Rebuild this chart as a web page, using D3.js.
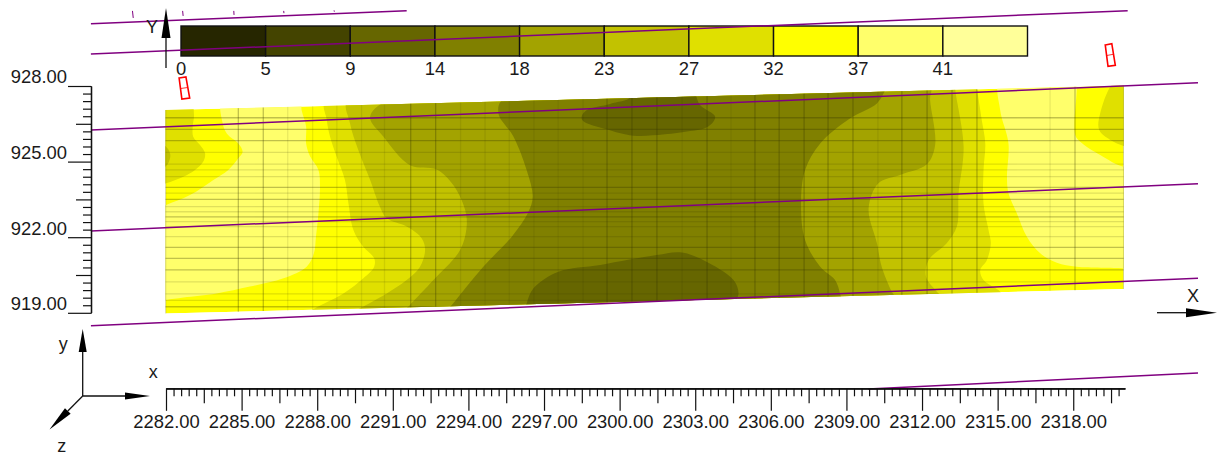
<!DOCTYPE html>
<html><head><meta charset="utf-8">
<style>html,body{margin:0;padding:0;background:#fff;overflow:hidden}svg{display:block}text{font-family:"Liberation Sans",Arial,sans-serif;fill:#1a1a1a}</style>
<script src="https://cdn.jsdelivr.net/npm/d3@7/dist/d3.min.js"></script></head><body>
<script>
// ---------- legend ----------
const legendLabels=["0","5","9","14","18","23","27","32","37","41"];
const legendColors=["#262600","#444400","#666600","#808000","#A3A300","#C2C200","#E0E000","#FFFF00","#FFFF6B","#FFFF99"];
// ---------- axes ----------
const xTickLabels=[2282,2285,2288,2291,2294,2297,2300,2303,2306,2309,2312,2315,2318];
const yTickLabels=[919,922,925,928];
// ---------- surface outline (x,y) ----------
const surface=[[2281.98,927.05],[2320.0,928.02],[2320.0,919.94],[2281.98,918.97]];
// ---------- contour bands (x,y), from the picture ----------
const paleLeft=[[2284.25,927.5],[2284.25,926.52],[2284.41,926.12],[2284.87,925.72],[2285.04,925.39],[2284.87,925.13],[2284.47,924.67],[2283.88,924.27],[2282.95,923.67],[2282,923.28],[2281.5,923.1],[2281.5,919.4],[2282,919.51],[2282.69,919.61],[2284.01,919.77],[2285.33,920.04],[2286.66,920.37],[2287.58,920.83],[2287.87,921.36],[2287.95,922.02],[2288.05,922.95],[2288.11,924.0],[2288.05,924.67],[2287.72,925.2],[2287.56,925.72],[2287.56,926.39],[2287.38,927.05],[2287.32,927.5]];
const paleRight=[[2315.10,928.2],[2315.10,927.05],[2315.43,925.72],[2315.37,924.4],[2315.43,923.74],[2315.76,922.95],[2316.16,922.02],[2316.69,921.36],[2317.35,920.99],[2318.14,920.83],[2320.0,920.76],[2320.4,920.7],[2320.4,924.9],[2320.0,924.8],[2319.07,925.26],[2318.28,925.79],[2318.08,926.06],[2318.14,927.84],[2318.14,928.2]];
const cornerLeft=[[2281.5,927.5],[2282.95,927.5],[2283.11,926.85],[2283.06,926.39],[2283.08,925.99],[2283.35,925.66],[2283.55,925.33],[2283.48,925.0],[2283.15,924.67],[2282.69,924.4],[2282,924.14],[2281.5,924.0]];
const cornerRight=[[2319.67,928.2],[2319.07,926.92],[2319.03,926.25],[2319.47,925.86],[2320.0,925.62],[2320.4,925.5],[2320.4,928.2]];
const band27=[[2288.35,927.5],[2288.38,926.65],[2288.51,925.99],[2288.77,925.2],[2289.10,924.27],[2289.24,923.34],[2289.44,922.28],[2289.83,921.62],[2290.26,921.16],[2290.26,920.83],[2289.83,920.37],[2289.04,919.77],[2287.91,919.18],[2287.5,918.9],[2315.3,919.5],[2315.10,919.84],[2314.44,920.30],[2314.31,920.70],[2314.57,921.09],[2314.73,921.76],[2314.64,922.28],[2314.44,923.34],[2314.44,924.67],[2314.51,925.72],[2314.37,926.65],[2314.18,927.84],[2314.1,928.2]];
const band23=[[2289.24,927.5],[2289.30,926.52],[2289.63,925.46],[2290.10,924.27],[2290.49,923.21],[2290.76,922.75],[2291.55,922.42],[2292.15,921.95],[2292.28,921.49],[2292.08,920.83],[2291.55,920.30],[2290.76,919.77],[2289.70,919.18],[2289.2,918.9],[2312.9,919.5],[2312.59,919.84],[2312.16,920.43],[2312.26,921.09],[2312.98,921.76],[2313.38,922.42],[2313.45,923.74],[2313.65,925.59],[2313.32,927.84],[2313.3,928.2]];
const band18=[[2291.0,927.5],[2290.10,926.78],[2290.63,925.99],[2291.68,924.86],[2292.74,924.69],[2293.40,924.07],[2293.87,923.08],[2293.93,922.42],[2293.67,921.49],[2292.61,920.30],[2291.68,919.31],[2291.3,918.9],[2311,919.5],[2310.80,919.84],[2310.40,920.83],[2310.21,921.76],[2309.88,923.14],[2310.27,924.14],[2311.13,924.47],[2312.19,924.89],[2312.52,925.66],[2312.32,927.44],[2312.30,928.2]];
const band14=[[2295.4,927.5],[2295.19,926.92],[2295.79,925.99],[2296.31,924.67],[2296.55,923.61],[2296.38,923.01],[2295.72,922.02],[2294.59,920.83],[2293.34,919.31],[2293,918.9],[2308.8,919.4],[2308.75,919.74],[2308.55,920.30],[2307.96,920.83],[2307.36,921.89],[2307.20,923.34],[2307.36,924.67],[2307.96,925.72],[2309.15,926.72],[2310.21,927.31],[2310.54,927.84],[2310.7,928.2]];
const blobTop=[[2298.50,926.81],[2298.70,927.05],[2299.62,927.29],[2300.42,927.55],[2300.4,928],[2302.8,928],[2303.19,927.25],[2303.79,926.78],[2303.52,926.39],[2302.67,926.19],[2300.55,926.03],[2299.49,926.28],[2298.54,926.62]];
const blobBottom=[[2296.2,918.9],[2296.31,919.37],[2296.58,919.97],[2297.57,920.63],[2299.23,920.90],[2301.47,921.29],[2302.40,921.40],[2303.33,921.09],[2304.52,920.30],[2304.72,919.77],[2304.58,919.37],[2304.6,918.9]];
const notchLeft=[[2281.6,925.7],[2282,925.59],[2282.16,925.33],[2282.16,925.13],[2282,924.82],[2281.6,924.7]];
// ---------- mesh lines ----------
const meshXStrong=[2281.98,2284.87,2285.86,2291.71,2292.70,2299.5,2300.49,2301.48,2303.47,2305.37,2306.33,2307.32,2308.27,2309.26,2311.2,2312.2,2313.19,2314.18,2318.07,2320.0];
const meshXFaint=[2286.83,2287.82,2288.78,2289.76,2290.67,2293.69,2294.66,2295.62,2296.6,2297.56,2298.55,2302.48,2304.42,2310.25,2317.08];
const meshYStrong=[926.74,926.28,925.83,923.98,923.50,922.81,921.60,921.16,920.70,919.24];
const meshYFaint=[925.37,924.90,924.67,924.40,923.75,923.21,923.01,922.62,922.42,922.02,920.23,919.75,919.49];
// ---------- section lines (x,y) ----------
const sections=[[[2279.02,930.47],[2291.55,930.99]],[[2279.02,929.27],[2320.16,930.99]],[[2279.02,926.25],[2322.95,928.13]],[[2279.02,922.25],[2322.95,924.12]],[[2279.02,918.49],[2322.95,920.37]],[[2309.86,915.98],[2322.95,916.61]]];
const sectionTicks=[[[2280.67,930.98],[2280.7,930.7]],[[2282.66,930.98],[2282.68,930.78]],[[2284.69,930.98],[2284.7,930.82]],[[2286.67,930.98],[2286.68,930.89]],[[2288.67,931.0],[2288.68,930.95]]];
const markers=[[[2282.52,928.32],[2282.79,928.36],[2282.94,927.52],[2282.63,927.48]],[[2319.27,929.63],[2319.53,929.68],[2319.67,928.82],[2319.38,928.78]]];
const markerMids=[[[2282.58,927.9],[2282.86,927.94]],[[2319.33,929.21],[2319.6,929.26]]];

const W=1217,H=456,FS=18.4;
const x=d3.scaleLinear().domain([2282,2320.05]).range([166,1124.9]);
const y=d3.scaleLinear().domain([919,928]).range([312.8,86]);
const svg=d3.select("body").append("svg").attr("width",W).attr("height",H);
const poly=p=>"M"+p.map(d=>[x(d[0]),y(d[1])].join(",")).join("L")+"Z";
const smooth=d3.line().x(d=>x(d[0])).y(d=>y(d[1])).curve(d3.curveCatmullRomClosed.alpha(0.5));

// contours
svg.append("clipPath").attr("id","sf").append("path").attr("d",poly(surface));
const g=svg.append("g").attr("clip-path","url(#sf)");
g.append("path").attr("d",poly(surface)).attr("fill",legendColors[7]);
[[paleLeft,8],[paleRight,8],[cornerLeft,6],[cornerRight,6],[band27,6],[notchLeft,5],[band23,5],[band18,4],[band14,3],[blobTop,2],[blobBottom,2]]
 .forEach(([p,c])=>g.append("path").attr("d",smooth(p)).attr("fill",legendColors[c]));
// mesh
const meshV=(a,o)=>g.append("g").selectAll("line").data(a).join("line").attr("x1",d=>x(d)).attr("x2",d=>x(d)).attr("y1",y(928.3)).attr("y2",y(918.8)).attr("stroke","#333300").attr("stroke-width",1.3).attr("opacity",o);
const meshH=(a,o)=>g.append("g").selectAll("line").data(a).join("line").attr("x1",x(2281.9)).attr("x2",x(2320.1)).attr("y1",d=>y(d)).attr("y2",d=>y(d)).attr("stroke","#333300").attr("stroke-width",1.3).attr("opacity",o);
meshV(meshXStrong,.3);meshV(meshXFaint,.1);meshH(meshYStrong,.3);meshH(meshYFaint,.15);

// legend
const lx=d3.scaleLinear().domain([0,legendLabels.length]).range([181,1027.5]);
const lg=svg.append("g");
lg.selectAll("rect").data(legendColors).join("rect").attr("x",(d,i)=>lx(i)).attr("y",26).attr("width",(d,i)=>lx(i+1)-lx(i)).attr("height",30).attr("fill",d=>d).attr("stroke","#111").attr("stroke-width",1.4);
lg.selectAll("text").data(legendLabels).join("text").attr("x",(d,i)=>lx(i)).attr("y",74.6).attr("text-anchor","middle").attr("font-size",FS).text(d=>d);

// section lines
const ln=d3.line().x(d=>x(d[0])).y(d=>y(d[1]));
svg.append("g").selectAll("path").data(sections).join("path").attr("d",ln).attr("fill","none").attr("stroke","#800080").attr("stroke-width",1.5);
svg.append("g").selectAll("path").data(sectionTicks).join("path").attr("d",ln).attr("fill","none").attr("stroke","#800080").attr("stroke-width",1);
svg.append("g").selectAll("path").data(markers).join("path").attr("d",poly).attr("fill","none").attr("stroke","#ff0000").attr("stroke-width",1.6);
svg.append("g").selectAll("path").data(markerMids).join("path").attr("d",ln).attr("fill","none").attr("stroke","#ff0000").attr("stroke-width",.8);

// axes
const majorX=xTickLabels, midX=xTickLabels.map(d=>d+1.5).filter(d=>d<2320);
const allX=d3.range(0,127).map(i=>2282+i*0.3).filter(d=>!majorX.some(m=>Math.abs(m-d)<.01)&&!midX.some(m=>Math.abs(m-d)<.01));
const axY=388.3, axX=91;
const bx=svg.append("g").attr("transform",`translate(0,${axY})`);
const style=s=>{s.selectAll("path,line").attr("stroke","#111").attr("stroke-width",1.2);};
bx.append("g").call(d3.axisBottom(x).tickValues(allX).tickSize(8).tickSizeOuter(0).tickFormat("")).call(style);
bx.append("g").call(d3.axisBottom(x).tickValues(midX).tickSize(15).tickSizeOuter(0).tickFormat("")).call(style);
bx.append("g").call(d3.axisBottom(x).tickValues(majorX).tickSize(22.5).tickSizeOuter(0).tickPadding(4).tickFormat(d3.format(".2f"))).call(style)
  .selectAll("text").attr("font-size",FS).attr("font-family",null);
const majorY=yTickLabels, midY=[919,922,925].map(d=>d+1.5);
const allY=d3.range(0,31).map(i=>919+i*0.3).filter(d=>!majorY.some(m=>Math.abs(m-d)<.01)&&!midY.some(m=>Math.abs(m-d)<.01));
const ly=svg.append("g").attr("transform",`translate(${axX},0)`);
ly.append("g").call(d3.axisLeft(y).tickValues(allY).tickSize(8).tickSizeOuter(0).tickFormat("")).call(style);
ly.append("g").call(d3.axisLeft(y).tickValues(midY).tickSize(15).tickSizeOuter(0).tickFormat("")).call(style);
ly.append("g").call(d3.axisLeft(y).tickValues(majorY).tickSize(23).tickSizeOuter(0).tickPadding(1).tickFormat(d3.format(".2f"))).call(style)
  .selectAll("text").attr("font-size",FS).attr("y",-9).attr("font-family",null);
svg.selectAll(".domain").attr("stroke","#111");

// arrows & labels
function arrow(x1,y1,x2,y2,len,hw){
  const a=Math.atan2(y2-y1,x2-x1),bx=x2-len*Math.cos(a),by=y2-len*Math.sin(a),nx=-Math.sin(a)*hw,ny=Math.cos(a)*hw;
  svg.append("line").attr("x1",x1).attr("y1",y1).attr("x2",bx).attr("y2",by).attr("stroke","#111").attr("stroke-width",1.3);
  svg.append("path").attr("d",`M${x2},${y2}L${bx+nx},${by+ny}L${bx-nx},${by-ny}Z`).attr("fill","#000");
}
arrow(166,68,166,8,30,4.5);
arrow(1157,312.7,1217,312.7,31,4.5);
arrow(82.7,396,82.7,329,23,4);
arrow(82.7,396,150,396,25,3.5);
arrow(82.7,396,49.5,429.5,26,4);
[["Y",152,32.5],["X",1193,301.5],["y",63.3,350],["x",153.3,378],["z",61.7,452]].forEach(([t,a,b])=>
  svg.append("text").attr("x",a).attr("y",b).attr("text-anchor","middle").attr("font-size",18).text(t));
</script></body></html>
